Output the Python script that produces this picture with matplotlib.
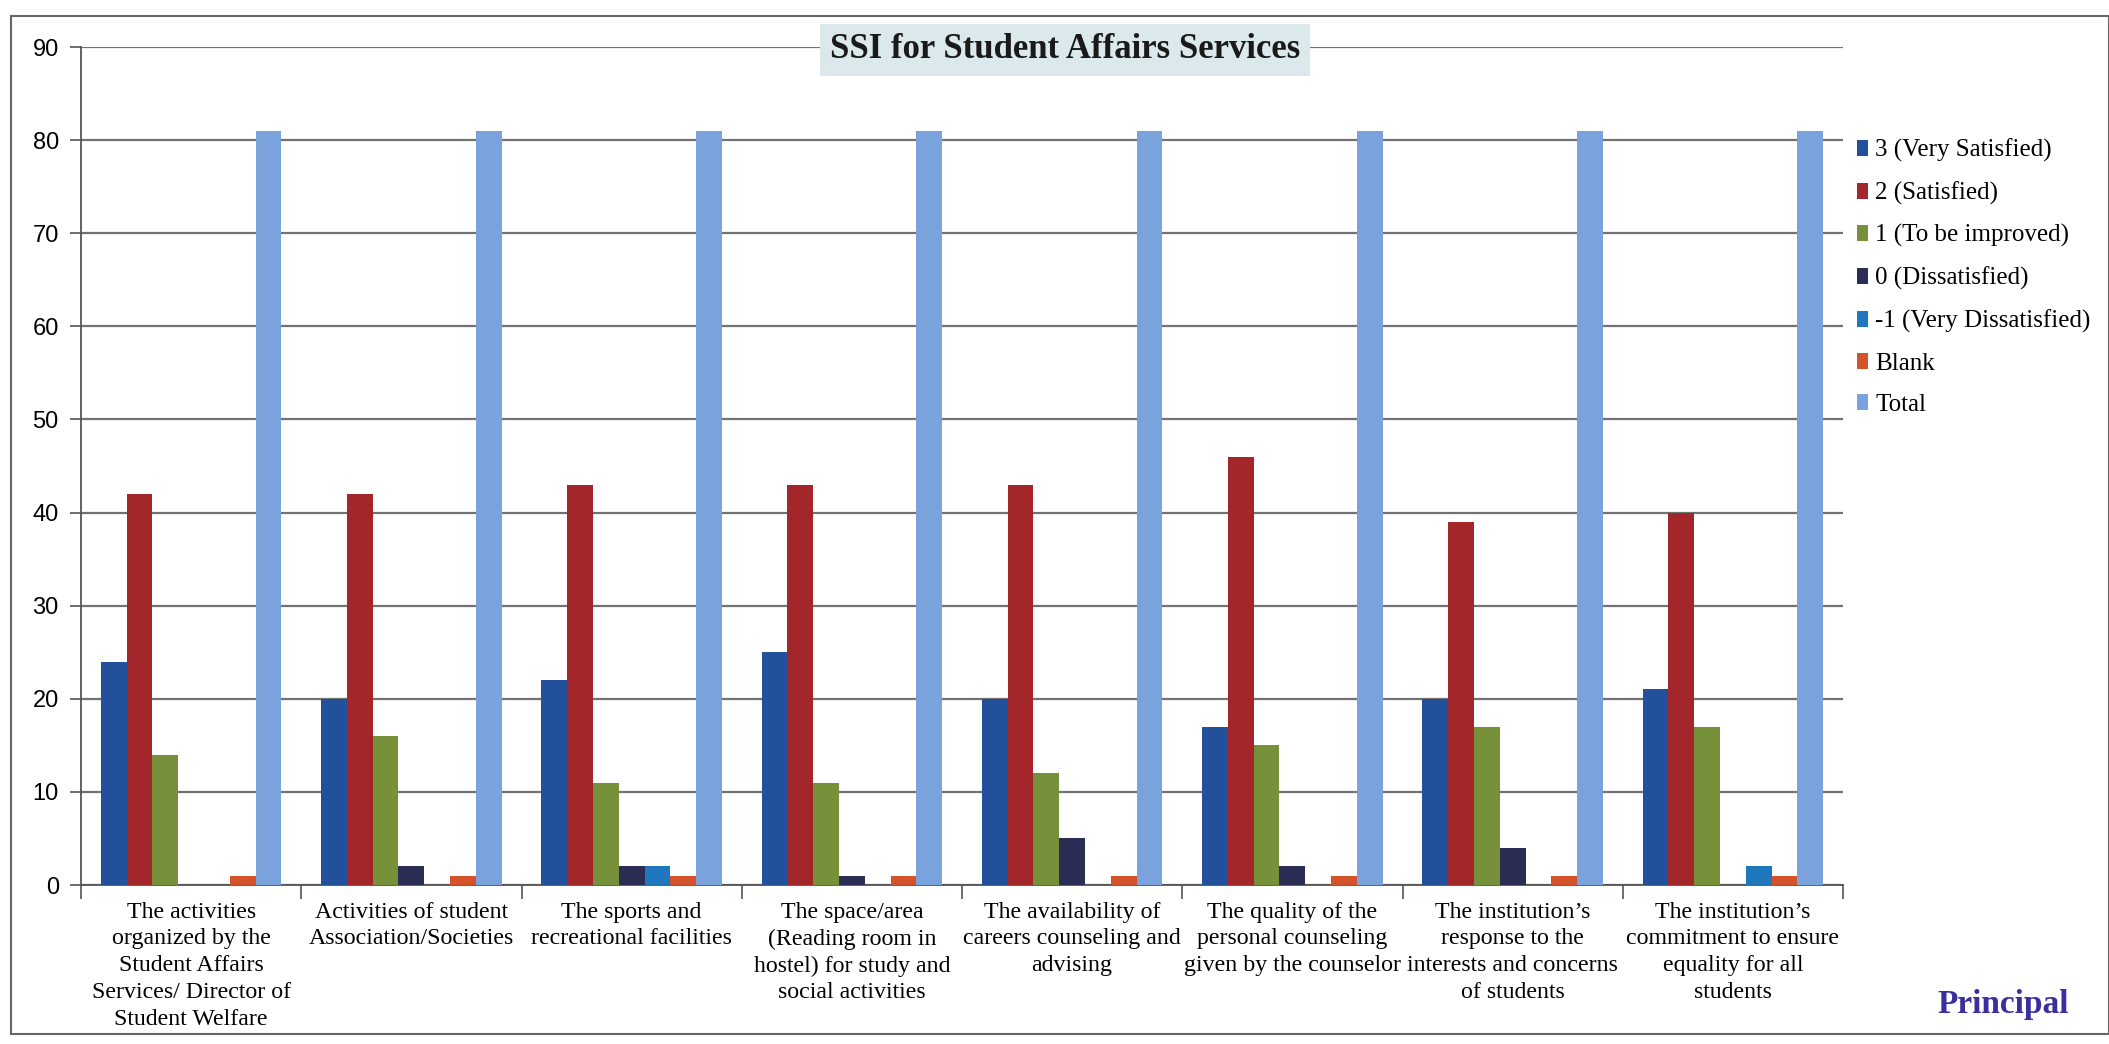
import matplotlib
matplotlib.use("Agg")
import matplotlib.pyplot as plt
import numpy as np
from matplotlib.patches import Rectangle

categories = [
    "The activities\norganized by the\nStudent Affairs\nServices/ Director of\nStudent Welfare",
    "Activities of student\nAssociation/Societies",
    "The sports and\nrecreational facilities",
    "The space/area\n(Reading room in\nhostel) for study and\nsocial activities",
    "The availability of\ncareers counseling and\nadvising",
    "The quality of the\npersonal counseling\ngiven by the counselor",
    "The institution\u2019s\nresponse to the\ninterests and concerns\nof students",
    "The institution\u2019s\ncommitment to ensure\nequality for all\nstudents",
]

very_satisfied = [24, 20, 22, 25, 20, 17, 20, 21]
satisfied = [42, 42, 43, 43, 43, 46, 39, 40]
to_be_improved = [14, 16, 11, 11, 12, 15, 17, 17]
dissatisfied = [0, 2, 2, 1, 5, 2, 4, 0]
very_dissatisfied = [0, 0, 2, 0, 0, 0, 0, 2]
blank = [1, 1, 1, 1, 1, 1, 1, 1]
total = [81, 81, 81, 81, 81, 81, 81, 81]

series_names = ["3 (Very Satisfied)", "2 (Satisfied)", "1 (To be improved)",
                "0 (Dissatisfied)", "-1 (Very Dissatisfied)", "Blank", "Total"]
series_values = [very_satisfied, satisfied, to_be_improved, dissatisfied,
                 very_dissatisfied, blank, total]
colors = ["#22509a", "#a3262b", "#76913a", "#2c2d55", "#1f78bd", "#d5532a", "#7aa2dc"]

yticks = [0, 10, 20, 30, 40, 50, 60, 70, 80, 90]

serif = ["Liberation Serif", "DejaVu Serif"]
narrow = ["Liberation Sans Narrow", "Liberation Sans", "DejaVu Sans"]

W, H = 2109, 1044
fig = plt.figure(figsize=(W / 100, H / 100), dpi=100)
fig.patch.set_facecolor("white")

ax = fig.add_axes([81 / W, 1 - 885 / H, (1843 - 81) / W, (885 - 47) / H])

n = len(categories)
x = np.arange(n)
nb = len(series_values)
bw = 0.117
for i, (name, vals, c) in enumerate(zip(series_names, series_values, colors)):
    offs = (i - (nb - 1) / 2) * bw
    ax.bar(x + offs, vals, width=bw, color=c, label=name, zorder=3)

ax.set_xlim(-0.5, n - 0.5)
ax.set_ylim(0, 90)
ax.set_yticks(yticks)
ax.set_yticklabels([str(t) for t in yticks], fontfamily=narrow, fontsize=17)
ax.yaxis.grid(True, color="#727272", linewidth=1.6, zorder=0)
ax.set_axisbelow(True)
ax.tick_params(axis="y", length=8, width=1.2, color="#555555", pad=8)

ax.set_xticks(x)
ax.set_xticklabels(categories, fontfamily=serif, fontsize=17.2, linespacing=1.36,
                   va="top")
ax.tick_params(axis="x", length=0, pad=12)
ax.set_xticks(np.arange(n + 1) - 0.5, minor=True)
ax.tick_params(axis="x", which="minor", length=10, width=1.2, color="#555555")

for s in ["top", "right"]:
    ax.spines[s].set_visible(False)
ax.spines["left"].set_color("#555555")
ax.spines["left"].set_linewidth(1.3)
ax.spines["bottom"].set_color("#555555")
ax.spines["bottom"].set_linewidth(1.3)

leg = fig.legend(loc="upper left", bbox_to_anchor=(1834 / W, 1 - 116 / H),
                 frameon=False, prop={"family": serif, "size": 18},
                 handlelength=0.45, handleheight=0.6, handletextpad=0.3,
                 labelspacing=0.78)

fig.text(1065 / W, 1 - 50 / H, "SSI for Student Affairs Services",
         ha="center", va="center", fontsize=25, fontweight="bold",
         fontfamily=serif, color="#1a1a1a",
         bbox=dict(boxstyle="square,pad=0.28", facecolor="#dbe9ec", edgecolor="none"))

fig.text(2003 / W, 1 - 1004 / H, "Principal", ha="center", va="center",
         fontsize=24, fontweight="bold", fontfamily=serif, color="#3b2f9e")

fig.add_artist(Rectangle((11 / W, 1 - 1034 / H), (W - 11) / W, (1034 - 16) / H,
                         transform=fig.transFigure, fill=False,
                         edgecolor="#666666", linewidth=1.5))

fig.savefig("out.png", dpi=100, facecolor="white")
